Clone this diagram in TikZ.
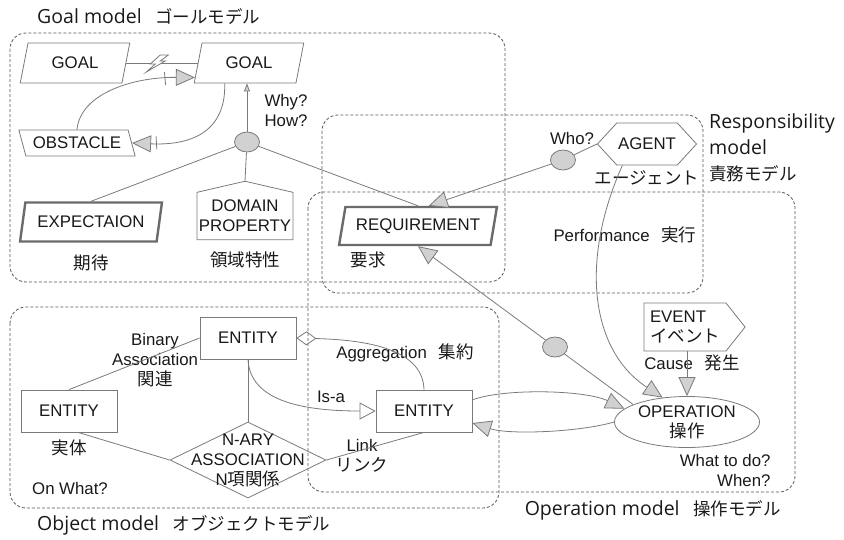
\documentclass[tikz,border=0pt]{standalone}
\usepackage{fontspec}
\setmainfont{Liberation Sans}
\newfontfamily\jp{Noto Sans CJK JP}
\newfontfamily\ttlfont{Open Sans}
\usetikzlibrary{positioning,shapes.geometric,shapes.symbols,arrows.meta,calc}

\definecolor{lineg}{gray}{0.48}
\definecolor{fillg}{gray}{0.82}
\definecolor{thickg}{gray}{0.42}
\definecolor{boxg}{gray}{0.35}
\definecolor{txtg}{gray}{0.1}

\newcommand{\ja}[1]{{\jp\fontsize{17.5}{20}\selectfont #1}}
\newcommand{\gap}{\hspace{0.7em}}

\tikzstyle{model} = [draw=boxg, dash pattern=on 3pt off 2pt, rounded corners=16pt, line width=0.8pt]
\tikzstyle{title} = [font=\ttlfont\fontsize{19.5}{26}\selectfont, inner sep=0pt]
\tikzstyle{base} = [draw=lineg, line width=0.8pt, fill=white, inner sep=0pt]
\tikzstyle{goal} = [base, trapezium, trapezium left angle=72, trapezium right angle=108, trapezium stretches=true, minimum width=110pt, minimum height=40pt]
\tikzstyle{obst} = [base, trapezium, trapezium left angle=117, trapezium right angle=63, trapezium stretches=true, minimum width=117pt, minimum height=26pt]
\tikzstyle{thickpar} = [base, draw=thickg, line width=2.4pt, trapezium, trapezium left angle=70, trapezium right angle=110, trapezium stretches=true]
\tikzstyle{house} = [base, signal, signal to=north, signal pointer angle=154, minimum width=96pt, minimum height=58pt, align=center]
\tikzstyle{agentbox} = [base, signal, signal from=nowhere, signal to=east and west, signal pointer angle=95, minimum width=99pt, minimum height=42pt]
\tikzstyle{eventbox} = [base, signal, signal to=east, signal pointer angle=103, minimum width=97pt, minimum height=48pt, align=left, inner xsep=6pt]
\tikzstyle{ent} = [base, rectangle, minimum width=96pt, minimum height=42pt]
\tikzstyle{andc} = [base, ellipse, fill=fillg, minimum width=25pt, minimum height=20pt]
\tikzstyle{link} = [draw=lineg, line width=0.8pt]
\tikzstyle{bigtip} = [link, -{Triangle[length=19pt, width=17pt, fill=fillg]}]
\tikzstyle{smalltip} = [link, -{Triangle[length=8pt, width=6pt, fill=fillg]}]
\tikzstyle{isatip} = [link, -{Triangle[open, length=16pt, width=17pt]}]
\tikzstyle{aggrtip} = [link, {Diamond[open, length=20pt, width=14pt]}-]
\tikzstyle{tick} = [draw=lineg, line width=0.8pt, rectangle, sloped, inner sep=0pt, minimum width=0pt, minimum height=13pt]

\begin{document}
\begin{tikzpicture}[x=1pt, y=-1pt, every node/.style={font=\fontsize{16.8}{20}\selectfont, text=txtg}]
\useasboundingbox (0,0) rectangle (844,539);

% Model frames
\draw[model] (10,33) rectangle (505,282);
\draw[model] (322,115) rectangle (703,293);
\draw[model] (308,192) rectangle (795,492);
\draw[model] (10,307) rectangle (499,508);

\node[title, anchor=west] (tgoal) at (37,17) {Goal model\gap\ja{ゴールモデル}};
\node[title, anchor=north west, align=left] (tresp) at (709,113) {Responsibility\\model\\\ja{責務モデル}};
\node[title, anchor=west] (tobj) at (37,525) {Object model\gap\ja{オブジェクトモデル}};
\node[title, anchor=east] (toper) at (781,510) {Operation model\gap\ja{操作モデル}};

% Define nodes
\node[goal] (goalL) at (75,63) {GOAL};
\node[goal] (goalR) at (249,63) {GOAL};
\node[obst] (obst) at (77,143) {OBSTACLE};
\node[andc] (gand) at (247,142) {};
\node[thickpar, minimum width=142pt, minimum height=39pt] (expect) at (91,222) {EXPECTAION};
\node[house] (dom) at (245,216) {DOMAIN\\PROPERTY};
\node[below=9pt of expect] (expectJ) {\ja{期待}};
\node[below=8pt of dom] (domJ) {\ja{領域特性}};

\node[thickpar, minimum width=158pt, minimum height=38pt] (req) at (418,226) {REQUIREMENT};
\node (reqJ) at (368,260) {\ja{要求}};
\node[agentbox] (agent) at (647,144) {AGENT};
\node[below=2pt of agent] (agentJ) {\ja{エージェント}};
\node[andc] (rand) at (563,160) {};

\node[eventbox] (event) at (685,327) {EVENT\\\ja{イベント}};
\node[base, ellipse, minimum width=145pt, minimum height=51pt, align=center] (op) at (687,422) {OPERATION\\\ja{操作}};
\node[andc] (oand) at (555,347) {};

\node[ent] (ent1) at (248,338) {ENTITY};
\node[ent] (ent2) at (69,411) {ENTITY};
\node[ent] (ent3) at (424,411) {ENTITY};
\node[below=4pt of ent2] (ent2J) {\ja{実体}};
\node[base, diamond, fill=none, minimum width=156pt, minimum height=76pt,
  label={[align=center]center:N-ARY\\ASSOCIATION\\N\ja{項関係}}] (nary) at (248,460) {};

% Labels
\node[anchor=west, align=left] (why) at (261,110) {Why?\\How?};
\node (who) at (572,138) {Who?};
\node (perf) at (625,235) {Performance\gap\ja{実行}};
\node (cause) at (692,363) {Cause\gap\ja{発生}};
\node[anchor=east, align=right] (when) at (774,470) {What to do?\\When?};
\node[align=center] (binary) at (155,360) {Binary\\Association\\\ja{関連}};
\node (onwhat) at (70,488) {On What?};
\node (isa) at (331,397) {Is-a};
\node[align=center] (lnk) at (362,456) {Link\\\ja{リンク}};
\node (aggr) at (405,353) {Aggregation\gap\ja{集約}};

% Edges
\draw[link] (goalL.east) -- (goalR.west);
\coordinate (bolt) at ($(goalL.east)!0.42!(goalR.west)$);
\draw[link, fill=white] (bolt) ++(4,-8) -- ++(8,0) -- ++(-8,6) -- ++(5,0) -- ++(-19,11) -- ++(9,-8) -- ++(-5,0) -- cycle;
\draw[bigtip] (goalR.-140) .. controls (226,125) and (200,146) .. (obst.east) node[tick, pos=0.87] {};
\draw[bigtip] (obst.north) .. controls (80,95) and (130,77) .. (goalR.-165) node[tick, pos=0.84] {};
\draw[smalltip] (gand) -- (gand |- goalR.south);
\draw[link] (gand) -- (expect.north);
\draw[link] (gand) -- (dom.north);
\draw[link] (gand) -- (req.north);

\draw[bigtip] (agent.west) -- (rand) -- (req.62);
\draw[bigtip] (op.162) -- (oand) -- (req.south);
\draw[bigtip] (agent.-139) .. controls (580,260) and (590,350) .. (op.135);
\draw[bigtip] (op.north |- event.south) -- (op.north);

\draw[link] (ent2.north) -- (ent1.west);
\draw[link] (ent1.south) -- (nary.north);
\draw[link] (ent2.-67) -- (nary.west);
\draw[link] (nary.east) -- (ent3.south);
\draw[isatip] (ent1.south) .. controls (250,400) and (300,411) .. (ent3.west);
\draw[aggrtip] (ent1.east) .. controls (370,340) and (423,350) .. (ent3.north);
\draw[bigtip] (ent3.13) .. controls (505,388) and (585,390) .. (op.168);
\draw[bigtip] (op.west) .. controls (580,432) and (510,435) .. (ent3.-14);
\end{tikzpicture}
\end{document}
